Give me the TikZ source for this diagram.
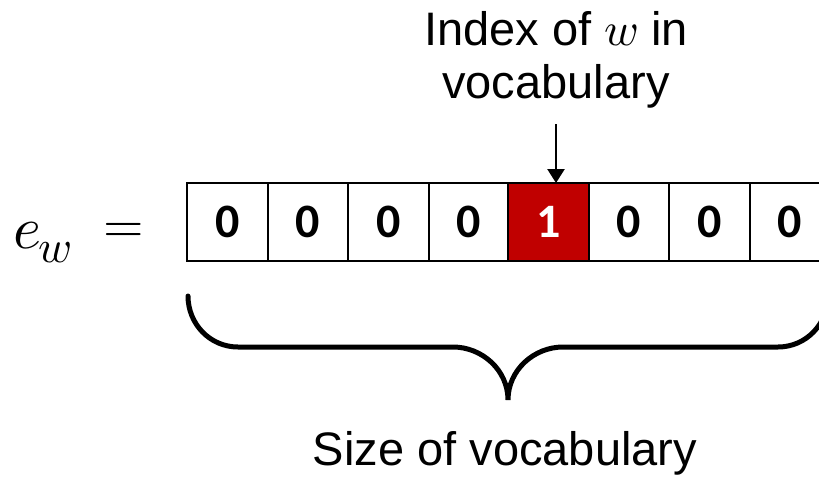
\documentclass[tikz,border=0pt]{standalone}
\usepackage{fontspec}
\usepackage{unicode-math}
\setmainfont{Liberation Sans}
\setmathfont{Latin Modern Math}
\newfontfamily\digitfont{Carlito}
\usetikzlibrary{arrows.meta}
\definecolor{hotred}{HTML}{C00000}
\tikzset{
  cell/.style={draw=black, line width=2pt, minimum width=80.5pt, minimum height=78pt, inner sep=0pt, fill=white,
    font=\digitfont\bfseries\fontsize{48}{48}\selectfont},
  hot/.style={fill=hotred, text=white},
  lbl/.style={font=\fontsize{47}{56}\selectfont, inner sep=0pt, anchor=base},
  bracepath/.style={line width=5pt, line cap=round},
  pointer/.style={line width=2.5pt, -{Triangle[width=17pt,length=14pt]}}
}
\begin{document}
\begin{tikzpicture}[x=1pt,y=-1pt]
\useasboundingbox (0,0) rectangle (819,480);
\clip (0,0) rectangle (819,480);
% equation
\node[inner sep=0pt, anchor=base west] (eq) at (13,248)
  {{\fontsize{60}{60}\selectfont$e$}\hspace{-3pt}{\fontsize{46}{46}\selectfont\raisebox{-14pt}{$w$}}\hspace{32pt}{\fontsize{52}{52}\selectfont\raisebox{6pt}{$=$}}};
% cells
\node[cell] (c1) at (227.25,222) {0};
\node[cell] (c2) at (307.75,222) {0};
\node[cell] (c3) at (388.25,222) {0};
\node[cell] (c4) at (468.75,222) {0};
\node[cell,hot] (c5) at (548.25,222) {1};
\node[cell] (c6) at (628.75,222) {0};
\node[cell] (c7) at (709.25,222) {0};
\node[cell] (c8) at (789.75,222) {0};
% top label
\node[lbl] (idx1) at (556,45) {Index of $w$ in};
\node[lbl] (idx2) at (556,98) {vocabulary};
\coordinate (arrstart) at (556,124);
\coordinate (arrend) at (556,183);
\draw[pointer] (arrstart) -- (arrend);
% brace
\draw[bracepath] (188,296) .. controls (188,324) and (210,347) .. (238,347)
  -- (453,347) .. controls (482,347) and (508,370) .. (508,400)
  .. controls (508,370) and (534,347) .. (563,347)
  -- (778,347) .. controls (806,347) and (828,324) .. (828,296);
\node[lbl] (size) at (505,465) {Size of vocabulary};
\end{tikzpicture}
\end{document}
